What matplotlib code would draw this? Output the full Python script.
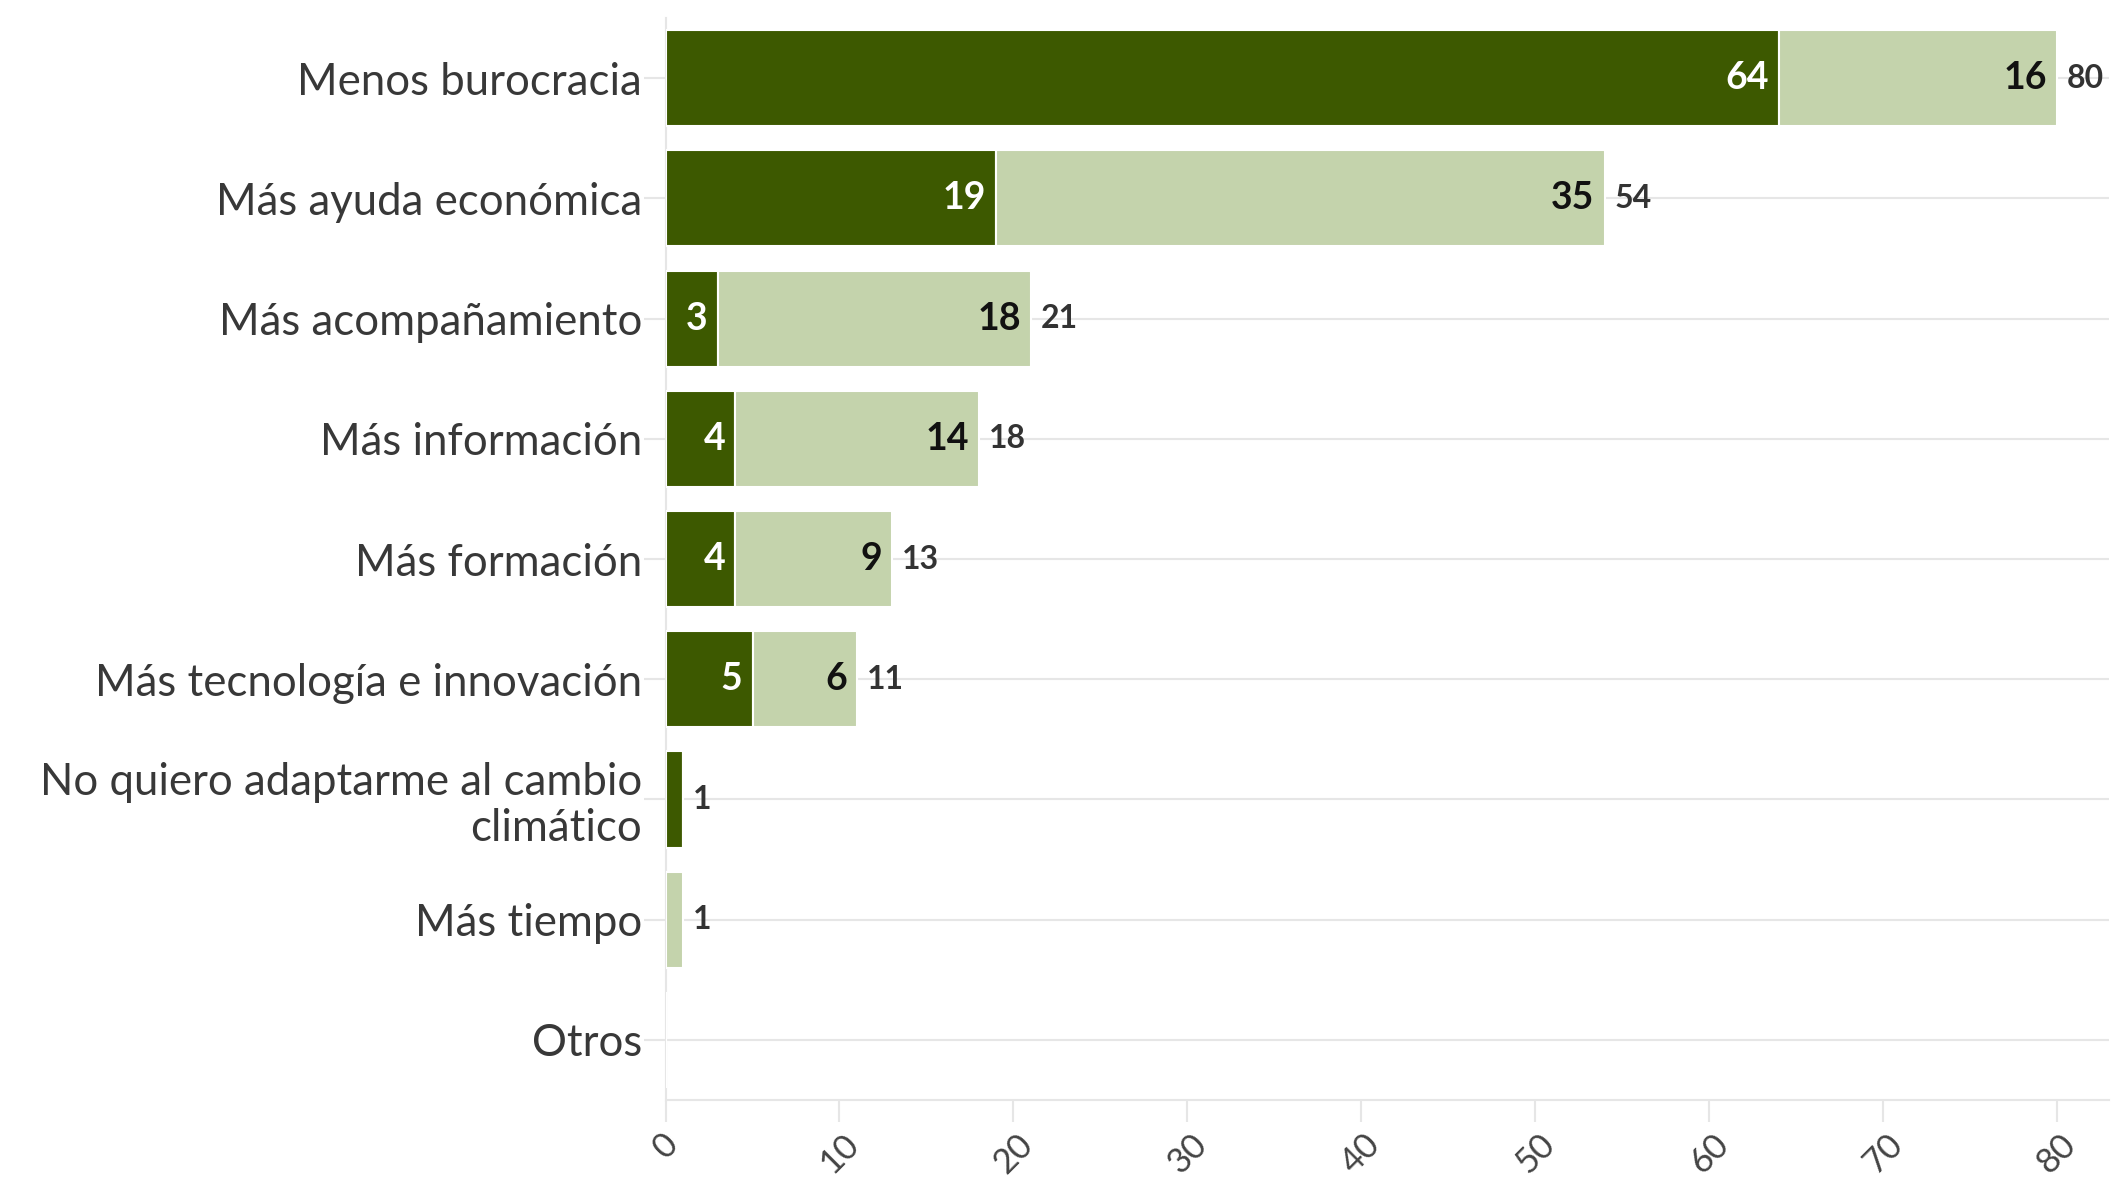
import matplotlib
matplotlib.use("Agg")
import matplotlib.pyplot as plt
import numpy as np
from matplotlib.transforms import offset_copy

categories = ["Menos burocracia", "Más ayuda económica", "Más acompañamiento",
              "Más información", "Más formación", "Más tecnología e innovación",
              "No quiero adaptarme al cambio\nclimático", "Más tiempo", "Otros"]
dark_vals = [64, 19, 3, 4, 4, 5, 1, 0, 0]
light_vals = [16, 35, 18, 14, 9, 6, 0, 1, 0]
xticks = [0, 10, 20, 30, 40, 50, 60, 70, 80]

DARK = "#3d5900"
LIGHT = "#c4d3ac"
FONT = "Lato"

plt.rcParams["font.family"] = [FONT, "DejaVu Sans"]

fig = plt.figure(figsize=(21.17, 11.80), dpi=100)
ax = fig.add_axes([0.3144, 0.0678, 0.9962 - 0.3144, 0.9847 - 0.0678])

y = np.arange(len(categories))
dark = np.array(dark_vals)
light = np.array(light_vals)
h = 0.8

ax.barh(y, dark, height=h, color=DARK, edgecolor="white", linewidth=1.5, zorder=3)
ax.barh(y, light, left=dark, height=h, color=LIGHT, edgecolor="white", linewidth=1.5, zorder=3)

ax.set_xlim(0, 83)
ax.set_ylim(len(categories) - 0.5, -0.5)

tr_in = offset_copy(ax.transData, fig=fig, x=-10, y=0, units="dots")
tr_out = offset_copy(ax.transData, fig=fig, x=10, y=0, units="dots")

for i in range(len(categories)):
    d, l = dark[i], light[i]
    if d >= 2:
        ax.text(d, i, str(d), transform=tr_in, ha="right", va="center",
                color="white", fontsize=27, fontweight="bold", zorder=4)
    if l >= 2:
        ax.text(d + l, i, str(l), transform=tr_in, ha="right", va="center",
                color="#111111", fontsize=27, fontweight="bold", zorder=4)
    tot = d + l
    if tot > 0:
        ax.text(tot, i, str(tot), transform=tr_out, ha="left", va="center",
                color="#333333", fontsize=23, fontweight="bold", zorder=4)

ax.set_yticks(y)
ax.set_yticklabels(categories, fontsize=31.5, color="#383838")
ax.tick_params(axis="y", length=16, width=1.5, color="#e6e6e6", pad=1)
ax.set_xticks(xticks)
ax.set_xticklabels([str(v) for v in xticks], rotation=45, ha="center",
                   fontsize=25, color="#444444")
ax.tick_params(axis="x", length=16, width=1.5, color="#e6e6e6", pad=4)

ax.grid(axis="y", color="#e6e6e6", linewidth=1.5, zorder=0)
ax.grid(axis="x", visible=False)
for s in ["top", "right"]:
    ax.spines[s].set_visible(False)
for s in ["left", "bottom"]:
    ax.spines[s].set_color("#e6e6e6")
    ax.spines[s].set_linewidth(1.5)

for lbl in ax.get_yticklabels():
    lbl.set_multialignment("right")
    lbl.set_linespacing(1.15)

fig.savefig("out.png", dpi=100, facecolor="white")
